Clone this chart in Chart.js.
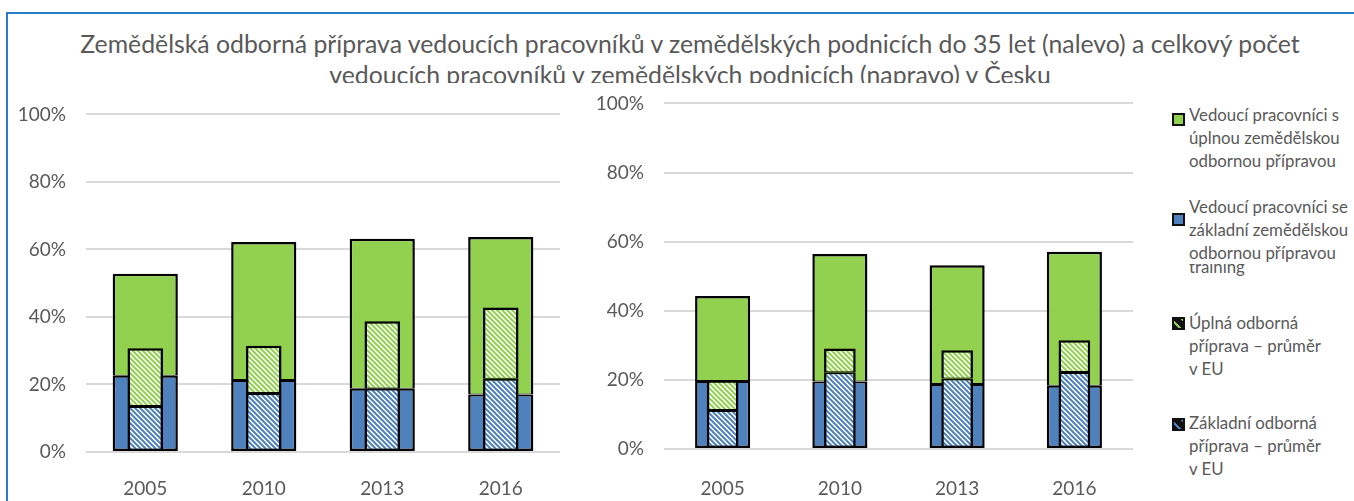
<!DOCTYPE html>
<html>
<head>
<meta charset="utf-8">
<script src="https://cdn.jsdelivr.net/npm/chart.js@4.4.0/dist/chart.umd.min.js"></script>
<style>
  body { margin: 0; width: 1354px; height: 501px; overflow: hidden; background: #fff; position: relative; font-family: Lato, sans-serif; }
  #ramecek { position: absolute; left: 6px; top: 12px; width: 1400px; height: 600px; border-top: 2px solid #2b7bcb; border-left: 2px solid #2b7bcb; }
  #nadpis { position: absolute; left: 0; top: 28px; width: 1380px; height: 55px; overflow: hidden; text-align: center; font-size: 24.8px; line-height: 31px; color: #595959; white-space: nowrap; }
  canvas { position: absolute; }
  #levy { left: 10px; top: 83px; }
  #pravy { left: 588px; top: 72px; }
  #legenda { position: absolute; left: 1172px; top: 0; width: 200px; height: 501px; font-size: 16.8px; line-height: 23px; color: #595959; }
  .polozka { position: absolute; left: 17px; white-space: nowrap; }
  .ctverec { position: absolute; left: 0; width: 9px; height: 9px; border: 2px solid #111; }
  .orez { display: block; height: 15px; overflow: hidden; position: relative; }
  .orez span { position: absolute; top: -9px; left: 0; }
</style>
</head>
<body>
<div id="ramecek"></div>
<div id="nadpis">Zemědělská odborná příprava vedoucích pracovníků v zemědělských podnicích do 35 let (nalevo) a celkový počet<br>vedoucích pracovníků v zemědělských podnicích (napravo) v Česku</div>

<canvas id="levy" width="550" height="418"></canvas>
<canvas id="pravy" width="545" height="429"></canvas>

<div id="legenda">
  <div class="ctverec" style="top:113px;background:#92d050"></div>
  <div class="polozka" style="top:103px">Vedoucí pracovníci s<br>úplnou zemědělskou<br>odbornou přípravou</div>
  <div class="ctverec" style="top:213px;background:#4f81bd"></div>
  <div class="polozka" style="top:195px">Vedoucí pracovníci se<br>základní zemědělskou<br>odbornou přípravou<br><span class="orez"><span>training</span></span></div>
  <div class="ctverec" style="top:317px;background:repeating-linear-gradient(45deg,#111 0 3px,#92d050 3px 5px,#111 5px 8px)"></div>
  <div class="polozka" style="top:311px">Úplná odborná<br>příprava – průměr<br>v EU</div>
  <div class="ctverec" style="top:418px;background:repeating-linear-gradient(45deg,#111 0 3px,#4f81bd 3px 5px,#111 5px 8px)"></div>
  <div class="polozka" style="top:411px">Základní odborná<br>příprava – průměr<br>v EU</div>
</div>

<script>
// data (v %)
const roky = ['2005', '2010', '2013', '2016'];
const osaY = [0, 20, 40, 60, 80, 100];

// nalevo: do 35 let
const leveZakladni = [22.6, 21.3, 18.7, 17.0];
const leveUplna = [30.2, 40.9, 44.5, 46.7];
const leveEuZakladni = [13.6, 17.5, 18.8, 21.7];
const leveEuUplna = [17.1, 14.0, 19.9, 21.1];

// napravo: celkem
const praveZakladni = [19.7, 19.5, 18.8, 18.3];
const praveUplna = [24.6, 36.9, 34.4, 38.8];
const praveEuZakladni = [11.3, 22.2, 20.4, 22.3];
const praveEuUplna = [8.6, 6.9, 8.2, 9.2];

const zelena = '#92d050';
const modra = '#4f81bd';

// okraje: spoj dvou dílů nemá být dvojitě silný
const okrajDole = { left: 2.5, right: 2.5, bottom: 2.5, top: 2 };
const okrajNahore = { left: 2.5, right: 2.5, bottom: 1, top: 2.5 };

// šrafování pro průměr EU
function srafa(barva) {
  const c = document.createElement('canvas');
  c.width = 5; c.height = 5;
  const g = c.getContext('2d');
  g.fillStyle = '#fff';
  g.fillRect(0, 0, 5, 5);
  g.strokeStyle = barva;
  g.lineWidth = 2;
  g.beginPath();
  g.moveTo(-1, -1); g.lineTo(6, 6);
  g.moveTo(-1, 4); g.lineTo(1, 6);
  g.moveTo(4, -1); g.lineTo(6, 1);
  g.stroke();
  return g.createPattern(c, 'repeat');
}

function vytvorGraf(id, zakl, upl, euZakl, euUpl, vnejsi, vnitrni, odsazeni) {
  const ctx = document.getElementById(id).getContext('2d');
  const spolecne = { borderColor: '#000', borderSkipped: false, grouped: false, categoryPercentage: 1 };
  return new Chart(ctx, {
    type: 'bar',
    data: {
      labels: roky,
      datasets: [
        { ...spolecne, label: 'Základní odborná příprava – průměr v EU', data: euZakl, backgroundColor: srafa(modra), borderWidth: okrajDole, stack: 'eu', order: 1, barPercentage: vnitrni },
        { ...spolecne, label: 'Úplná odborná příprava – průměr v EU', data: euUpl, backgroundColor: srafa(zelena), borderWidth: okrajNahore, stack: 'eu', order: 1, barPercentage: vnitrni },
        { ...spolecne, label: 'Vedoucí pracovníci se základní zemědělskou odbornou přípravou', data: zakl, backgroundColor: modra, borderWidth: okrajDole, stack: 'cz', order: 2, barPercentage: vnejsi },
        { ...spolecne, label: 'Vedoucí pracovníci s úplnou zemědělskou odbornou přípravou', data: upl, backgroundColor: zelena, borderWidth: okrajNahore, stack: 'cz', order: 2, barPercentage: vnejsi }
      ]
    },
    options: {
      responsive: false,
      animation: false,
      layout: { padding: { top: 14, left: 0, right: 0, bottom: 0 } },
      plugins: { legend: { display: false }, tooltip: { enabled: false } },
      scales: {
        x: {
          stacked: true,
          grid: { display: false, drawTicks: false },
          border: { display: false },
          ticks: { color: '#595959', font: { family: 'Lato', size: 19 }, padding: odsazeni },
          afterFit: (s) => { s.height = 49 + (id === 'pravy' ? 3 : 0); }
        },
        y: {
          stacked: true,
          min: 0,
          max: 100,
          grid: { color: '#d9d9d9', lineWidth: 2, drawTicks: false },
          border: { display: false },
          afterBuildTicks: (s) => { s.ticks = osaY.map(v => ({ value: v })); },
          ticks: { color: '#595959', font: { family: 'Lato', size: 19 }, padding: 20, callback: (v) => v + '%' },
          afterFit: (s) => { s.width = 76; }
        }
      }
    }
  });
}

vytvorGraf('levy', leveZakladni, leveUplna, leveEuZakladni, leveEuUplna, 0.55, 0.3, 25);
vytvorGraf('pravy', praveZakladni, praveUplna, praveEuZakladni, praveEuUplna, 0.47, 0.27, 28);
</script>
</body>
</html>
